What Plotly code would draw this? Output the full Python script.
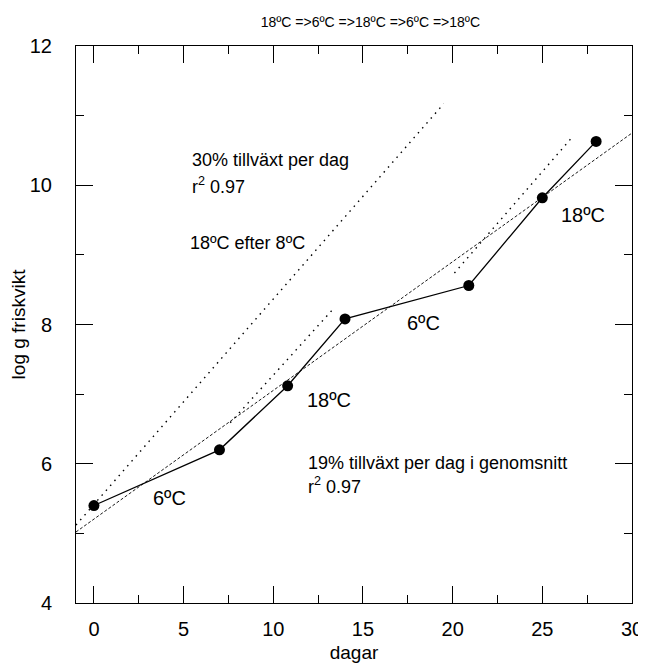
import plotly.graph_objects as go

# Measured data
days = [0, 7, 10.8, 14, 20.9, 25, 28]
log_weight = [5.4, 6.2, 7.12, 8.08, 8.56, 9.82, 10.63]

# Fitted lines (endpoints)
avg_fit_x = [-1, 30]
avg_fit_y = [5.02, 10.75]
fast_fit_x = [-1, 19.5]
fast_fit_y = [5.12, 11.17]
seg1_fit_x = [7.6, 13.4]
seg1_fit_y = [6.59, 8.24]
seg2_fit_x = [20.1, 26.7]
seg2_fit_y = [8.74, 10.70]

x_ticks = [0, 5, 10, 15, 20, 25, 30]
x_minor = [2.5, 7.5, 12.5, 17.5, 22.5, 27.5]
y_ticks = [4, 6, 8, 10, 12]
y_minor = [5, 7, 9, 11]

FONT = "Liberation Sans, Arial, sans-serif"

fig = go.Figure()

fig.add_trace(go.Scatter(x=avg_fit_x, y=avg_fit_y, mode="lines",
                         line=dict(color="black", width=0.9, dash="3px,2px"),
                         hoverinfo="skip"))
for fx, fy in [(fast_fit_x, fast_fit_y), (seg1_fit_x, seg1_fit_y), (seg2_fit_x, seg2_fit_y)]:
    fig.add_trace(go.Scatter(x=fx, y=fy, mode="lines",
                             line=dict(color="black", width=1.4, dash="1.5px,5px"),
                             hoverinfo="skip"))

fig.add_trace(go.Scatter(x=days, y=log_weight, mode="lines+markers",
                         line=dict(color="black", width=1.3),
                         marker=dict(color="black", size=11)))

labels = [
    (4.2, 5.51, "6ºC"),
    (13.1, 6.92, "18ºC"),
    (18.4, 8.02, "6ºC"),
    (27.25, 9.57, "18ºC"),
]
for x, y, t in labels:
    fig.add_annotation(x=x, y=y, text=t, showarrow=False,
                       font=dict(family=FONT, size=20, color="black"))

notes = [
    (5.35, 10.36, "30% tillväxt per dag"),
    (5.35, 10.0, "r<sup>2</sup> 0.97"),
    (5.25, 9.17, "18ºC efter 8ºC"),
    (11.8, 6.01, "19% tillväxt per dag i genomsnitt"),
    (11.8, 5.69, "r<sup>2</sup> 0.97"),
]
for x, y, t in notes:
    fig.add_annotation(x=x, y=y, text=t, showarrow=False, xanchor="left",
                       font=dict(family=FONT, size=18, color="black"))

axis_common = dict(
    showgrid=False, zeroline=False, showline=True, linecolor="black",
    linewidth=1, mirror="ticks", ticks="inside", ticklen=17,
    tickcolor="black", tickwidth=1, automargin=False,
    tickfont=dict(family=FONT, size=20, color="black"),
)

fig.update_xaxes(range=[-1, 30], tickvals=x_ticks,
                 minor=dict(tickvals=x_minor, ticks="inside", ticklen=8, tickcolor="black"),
                 title=dict(text="dagar", font=dict(family=FONT, size=19, color="black"),
                            standoff=6),
                 ticklabelstandoff=8, **axis_common)
fig.update_yaxes(range=[4, 12], tickvals=y_ticks,
                 minor=dict(tickvals=y_minor, ticks="inside", ticklen=8, tickcolor="black"),
                 title=dict(text="log g friskvikt", font=dict(family=FONT, size=19, color="black"),
                            standoff=5),
                 ticklabelstandoff=19, **axis_common)

fig.update_layout(
    width=638, height=663,
    margin=dict(l=68, r=14, t=38, b=68),
    paper_bgcolor="white", plot_bgcolor="white",
    showlegend=False,
    title=dict(text="18ºC =>6ºC =>18ºC =>6ºC =>18ºC", x=0.568, xanchor="center",
               y=0.978, yanchor="middle",
               font=dict(family=FONT, size=14, color="black")),
)

fig.write_html("out.html")
